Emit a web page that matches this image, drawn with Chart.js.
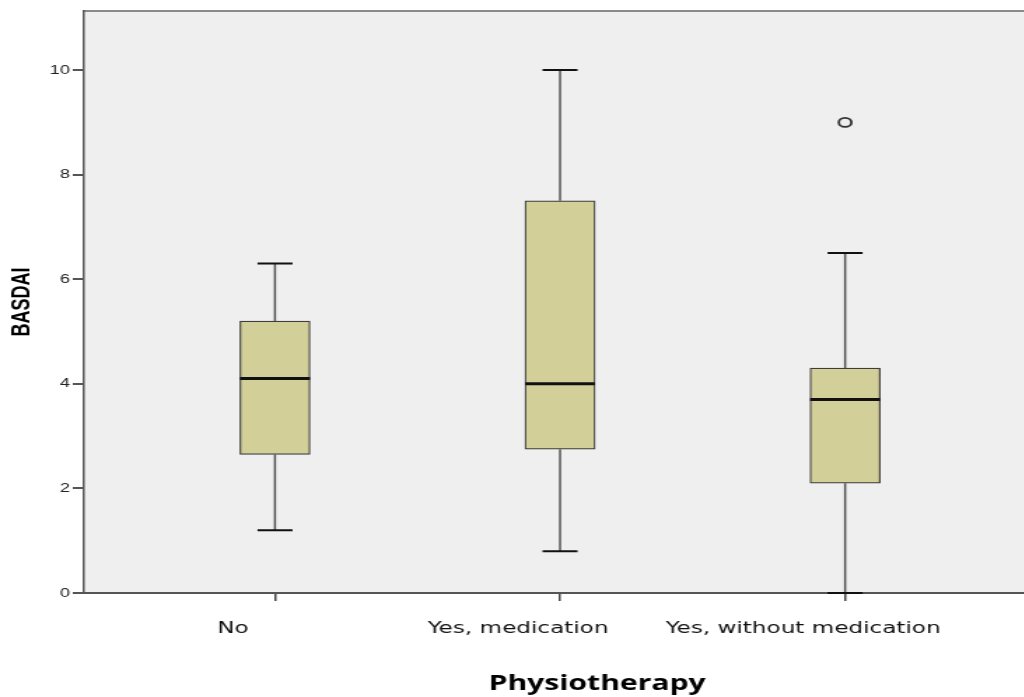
<!DOCTYPE html>
<html>
<head>
<meta charset="utf-8">
<script src="https://cdn.jsdelivr.net/npm/chart.js@4.4.1/dist/chart.umd.min.js"></script>
<style>
html,body{margin:0;padding:0;background:#fff;overflow:hidden;width:1024px;height:697px;}
#wrap{transform:scaleX(1.4);transform-origin:0 0;width:800px;height:697px;}
canvas{display:block;}
</style>
</head>
<body>
<div id="wrap"><canvas id="c" width="800" height="697"></canvas></div>
<script>
// ---- data ----
const categories = ['No', 'Yes, medication', 'Yes, without medication'];
const catPos = [1, 2, 3];
const mins    = [1.2, 0.8, 0.0];
const q1s     = [2.65, 2.75, 2.1];
const medians = [4.1, 4.0, 3.7];
const q3s     = [5.2, 7.5, 4.3];
const maxs    = [6.3, 10.0, 6.5];
const outlierCat = [3];
const outlierVal = [9.0];
const yTicks = [0, 2, 4, 6, 8, 10];
const xTitle = 'Physiotherapy';
const yTitle = 'BASDAI';

const boxPlugin = {
  id: 'boxExtras',
  beforeDraw(chart) {
    const {ctx, chartArea: a} = chart;
    ctx.save();
    ctx.fillStyle = '#efefef';
    ctx.fillRect(a.left, a.top, a.right - a.left, a.bottom - a.top);
    ctx.strokeStyle = '#8a8a8a';
    ctx.lineWidth = 2;
    ctx.beginPath();
    ctx.moveTo(a.left, a.top);
    ctx.lineTo(a.right, a.top);
    ctx.stroke();
    ctx.restore();
  },
  beforeDatasetsDraw(chart) {
    const {ctx, scales: {x, y}} = chart;
    ctx.save();
    ctx.strokeStyle = '#555';
    ctx.lineWidth = 1.5;
    catPos.forEach((c, i) => {
      const px = x.getPixelForValue(c);
      ctx.beginPath();
      ctx.moveTo(px, y.getPixelForValue(mins[i]));
      ctx.lineTo(px, y.getPixelForValue(q1s[i]));
      ctx.moveTo(px, y.getPixelForValue(q3s[i]));
      ctx.lineTo(px, y.getPixelForValue(maxs[i]));
      ctx.stroke();
    });
    ctx.restore();
  },
  afterDatasetsDraw(chart) {
    const {ctx, scales: {x, y}} = chart;
    const meta = chart.getDatasetMeta(0);
    ctx.save();
    ctx.strokeStyle = '#111';
    catPos.forEach((c, i) => {
      const px = x.getPixelForValue(c);
      const w = meta.data[i].width;
      ctx.lineWidth = 2;
      ctx.beginPath();
      [mins[i], maxs[i]].forEach(v => {
        const py = y.getPixelForValue(v);
        ctx.moveTo(px - w / 4, py);
        ctx.lineTo(px + w / 4, py);
      });
      ctx.stroke();
      ctx.lineWidth = 3;
      ctx.beginPath();
      const pm = y.getPixelForValue(medians[i]);
      ctx.moveTo(px - w / 2, pm);
      ctx.lineTo(px + w / 2, pm);
      ctx.stroke();
    });
    ctx.restore();
  }
};

new Chart(document.getElementById('c'), {
  type: 'bar',
  data: {
    datasets: [
      {
        type: 'bar',
        data: catPos.map((c, i) => ({x: c, y: [q1s[i], q3s[i]]})),
        backgroundColor: '#d3cf98',
        borderColor: '#3c3c3c',
        borderWidth: 1.2,
        borderSkipped: false,
        barThickness: 50
      },
      {
        type: 'scatter',
        data: outlierCat.map((c, i) => ({x: c, y: outlierVal[i]})),
        pointRadius: 4.5,
        borderWidth: 1.8,
        borderColor: '#333',
        backgroundColor: 'rgba(0,0,0,0)'
      }
    ]
  },
  options: {
    responsive: false,
    animation: false,
    layout: {padding: {left: 0, top: 11, right: 7, bottom: 0}},
    plugins: {legend: {display: false}, tooltip: {enabled: false}},
    scales: {
      x: {
        type: 'linear',
        offset: false,
        min: 0.33,
        max: 3.93,
        afterBuildTicks: s => { s.ticks = catPos.map(v => ({value: v})); },
        afterFit: s => { s.height = 104; },
        ticks: {
          autoSkip: false, maxRotation: 0,
          callback: v => categories[v - 1] || '',
          font: {family: 'DejaVu Sans', size: 16.5},
          color: '#111',
          padding: 18,
          labelOffset: -30
        },
        grid: {offset: false, drawOnChartArea: false, drawTicks: true, tickLength: 8, color: '#444', lineWidth: 1.5},
        border: {display: true, color: '#555', width: 2},
        title: {
          display: true, text: xTitle,
          font: {family: 'Open Sans', size: 21.5, weight: 'bold'},
          color: '#000',
          padding: {top: 0, bottom: 0}
        }
      },
      y: {
        min: 0,
        max: 11.13,
        afterBuildTicks: s => { s.ticks = yTicks.map(v => ({value: v})); },
        afterFit: s => { s.width = 60; },
        ticks: {
          font: {family: 'Liberation Sans', size: 13},
          color: '#222',
          padding: 2
        },
        grid: {drawOnChartArea: false, drawTicks: true, tickLength: 8, color: '#555', lineWidth: 2},
        border: {display: true, color: '#555', width: 1.5},
        title: {
          display: true, text: yTitle,
          font: {family: 'Liberation Sans', size: 18, weight: 'bold'},
          color: '#000',
          padding: {top: 5, bottom: 4}
        }
      }
    }
  },
  plugins: [boxPlugin]
});
</script>
</body>
</html>
